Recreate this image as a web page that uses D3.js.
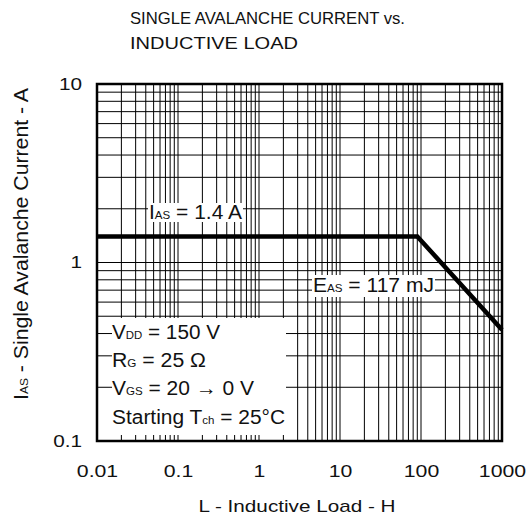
<!DOCTYPE html>
<html>
<head>
<meta charset="utf-8">
<script src="https://cdn.jsdelivr.net/npm/d3@7"></script>
<style>
  html, body { margin: 0; padding: 0; background: #fff; }
  svg { display: block; }
  text { font-family: "Liberation Sans", Arial, sans-serif; fill: #111; }
</style>
</head>
<body>
<svg id="chart" width="526" height="530"></svg>
<script>
// ---- data ----
const inductance = [0.01, 90, 1000];      // L (H axis)
const current    = [1.4, 1.4, 0.42];      // IAS (A)
const xTickValues = [0.01, 0.1, 1, 10, 100, 1000];
const xTickLabels = ["0.01", "0.1", "1", "10", "100", "1000"];
const yTickValues = [0.1, 1, 10];
const yTickLabels = ["0.1", "1", "10"];
const titleLines = ["SINGLE AVALANCHE CURRENT vs.", "INDUCTIVE LOAD"];
const xTitle = "L - Inductive Load - H";
const yTitle = [["I", ""], ["AS", "sub"], [" - Single Avalanche Current - A", ""]];
const iasLabel = [["I", ""], ["AS", "sub"], [" = 1.4 A", ""]];
const easLabel = [["E", ""], ["AS", "sub"], [" = 117 mJ", ""]];
const conditions = [
  [["V", ""], ["DD", "sub"], [" = 150 V", ""]],
  [["R", ""], ["G", "sub"], [" = 25 \u03A9", ""]],
  [["V", ""], ["GS", "sub"], [" = 20 \u2192 0 V", ""]],
  [["Starting T", ""], ["ch", "sub"], [" = 25\u00B0C", ""]]
];

// ---- layout ----
const svg = d3.select("#chart");
const L = 97, R = 502, T = 84, B = 441;
const x = d3.scaleLog().domain([0.01, 1000]).range([L, R]);
const y = d3.scaleLog().domain([0.1, 10]).range([B, T]);

function rich(sel, parts, size, subSize) {
  parts.forEach(([t, kind]) => {
    sel.append("tspan").text(t).attr("font-size", kind === "sub" ? subSize : size);
  });
  return sel;
}

// title
svg.selectAll(".title").data(titleLines).enter().append("text")
  .attr("x", 130).attr("y", (d, i) => 24 + i * 24.5)
  .attr("font-size", 17)
  .attr("textLength", (d, i) => i === 0 ? 275 : 168)
  .attr("lengthAdjust", "spacingAndGlyphs")
  .text(d => d);

// grid
const g = svg.append("g");
g.selectAll(".vg").data(x.ticks()).enter().append("line")
  .attr("x1", d => x(d)).attr("x2", d => x(d))
  .attr("y1", T).attr("y2", B)
  .attr("stroke", "#000").attr("stroke-width", 1);
g.selectAll(".hg").data(y.ticks()).enter().append("line")
  .attr("y1", d => y(d)).attr("y2", d => y(d))
  .attr("x1", L).attr("x2", R)
  .attr("stroke", "#000").attr("stroke-width", 1);

// curve
const line = d3.line().x((d, i) => x(inductance[i])).y((d, i) => y(current[i]));
svg.append("path").datum(current)
  .attr("d", line)
  .attr("fill", "none").attr("stroke", "#000").attr("stroke-width", 4.5)
  .attr("stroke-linejoin", "miter");

// white label backgrounds
svg.append("rect").attr("x", 148).attr("y", 203).attr("width", 95).attr("height", 19).attr("fill", "#fff");
svg.append("rect").attr("x", 312).attr("y", 275).attr("width", 123).attr("height", 22).attr("fill", "#fff");
svg.append("rect").attr("x", 112).attr("y", 318).attr("width", 174).attr("height", 117).attr("fill", "#fff");

// annotations
rich(svg.append("text").attr("x", 149).attr("y", 219)
  .attr("textLength", 93).attr("lengthAdjust", "spacingAndGlyphs"), iasLabel, 20, 11);
rich(svg.append("text").attr("x", 313).attr("y", 291.5)
  .attr("textLength", 121).attr("lengthAdjust", "spacingAndGlyphs"), easLabel, 20, 11);
const condWidths = [108, 94, 142, 173];
conditions.forEach((parts, i) => {
  rich(svg.append("text").attr("x", 112).attr("y", 338.5 + i * 28.4)
    .attr("textLength", condWidths[i]).attr("lengthAdjust", "spacingAndGlyphs"), parts, 20, 11);
});

// frame
svg.append("rect").attr("x", L).attr("y", T).attr("width", R - L).attr("height", B - T)
  .attr("fill", "none").attr("stroke", "#000").attr("stroke-width", 2.5);

// axes tick labels
const xAxis = d3.axisBottom(x).tickValues(xTickValues)
  .tickFormat((d, i) => xTickLabels[i]).tickSize(0).tickPadding(0);
const xa = svg.append("g").attr("transform", `translate(0,${B})`).call(xAxis);
xa.select(".domain").remove();
xa.selectAll("text").attr("y", 36).attr("dy", 0)
  .attr("font-size", 17).attr("fill", "#111")
  .attr("font-family", "Liberation Sans, Arial, sans-serif")
  .each(function() {
    const w = this.getComputedTextLength();
    d3.select(this).attr("textLength", w * 1.25).attr("lengthAdjust", "spacingAndGlyphs");
  });

const yAxis = d3.axisLeft(y).tickValues(yTickValues)
  .tickFormat((d, i) => yTickLabels[i]).tickSize(0).tickPadding(15);
const ya = svg.append("g").attr("transform", `translate(${L},0)`).call(yAxis);
ya.select(".domain").remove();
ya.selectAll("text").attr("dy", "0.3em")
  .attr("font-size", 17).attr("fill", "#111")
  .attr("font-family", "Liberation Sans, Arial, sans-serif")
  .each(function() {
    const w = this.getComputedTextLength();
    d3.select(this).attr("textLength", w * 1.22).attr("lengthAdjust", "spacingAndGlyphs");
  });

// axis titles
svg.append("text").attr("x", 297).attr("y", 512)
  .attr("text-anchor", "middle").attr("font-size", 17)
  .attr("textLength", 197).attr("lengthAdjust", "spacingAndGlyphs")
  .text(xTitle);
rich(svg.append("text")
  .attr("transform", "translate(28,244) rotate(-90)")
  .attr("text-anchor", "middle")
  .attr("textLength", 312).attr("lengthAdjust", "spacingAndGlyphs"), yTitle, 19.5, 11);
</script>
</body>
</html>
